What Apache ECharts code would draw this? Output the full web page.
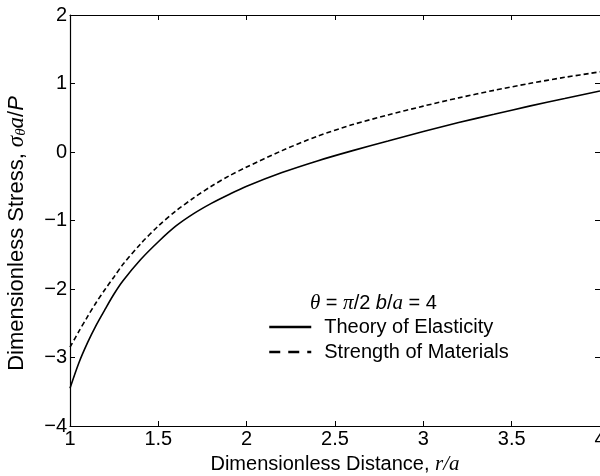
<!DOCTYPE html>
<html>
<head>
<meta charset="utf-8">
<script src="https://cdn.jsdelivr.net/npm/echarts@6/dist/echarts.min.js"></script>
<style>html,body{margin:0;padding:0;background:#fff}#c{width:600px;height:476px}</style>
</head>
<body>
<div id="c"></div>
<script>
// r/a values
const rValues = [1.0,1.05,1.1,1.15,1.2,1.25,1.3,1.4,1.5,1.6,1.7,1.8,1.9,2.0,2.2,2.4,2.6,2.8,3.0,3.2,3.4,3.6,3.8,4.0];
// Theory of Elasticity
const elasticity = [-3.45,-3.08,-2.78,-2.52,-2.29,-2.07,-1.88,-1.57,-1.31,-1.08,-0.90,-0.75,-0.62,-0.50,-0.30,-0.13,0.02,0.16,0.30,0.43,0.55,0.67,0.78,0.89];
// Strength of Materials
const strength = [-2.85,-2.62,-2.40,-2.19,-2.00,-1.82,-1.64,-1.34,-1.08,-0.86,-0.67,-0.50,-0.35,-0.22,0.02,0.23,0.40,0.54,0.67,0.79,0.90,1.00,1.09,1.17];
const seriesNames = ['Theory of Elasticity','Strength of Materials'];
const xTicks = [1,1.5,2,2.5,3,3.5,4];
const yTicks = [-4,-3,-2,-1,0,1,2];

const FONT = '"Liberation Sans", Arial, sans-serif';
const SERIF = '"Liberation Serif", "Times New Roman", serif';
const fmt = v => String(v).replace('-', '\u2212');

const chart = echarts.init(document.getElementById('c'));
const tickCommon = {show:true, inside:true, length:5, lineStyle:{color:'#000', width:1}};
const lineCommon = {show:true, onZero:false, lineStyle:{color:'#000', width:1.2}};
chart.setOption({
  animation:false,
  backgroundColor:'#fff',
  color:['#000','#000'],
  grid:{left:70, right:0, top:15, bottom:50, containLabel:false, outerBoundsMode:'none'},
  title:{
    left:305, top:288,
    text:'{i|θ} = {i|π}/2 {o|b}/{i|a} = 4',
    textStyle:{
      fontFamily:FONT, fontSize:20, fontWeight:'normal', color:'#000',
      rich:{
        i:{fontFamily:SERIF, fontStyle:'italic', fontSize:21, color:'#000'},
        o:{fontFamily:FONT, fontStyle:'italic', fontSize:20, color:'#000'}
      }
    }
  },
  legend:{
    orient:'vertical', left:263, top:312,
    itemWidth:42, itemHeight:14, itemGap:5,
    itemStyle:{opacity:0},
    textStyle:{fontFamily:FONT, fontSize:20, color:'#000', padding:[0,0,0,8]},
    data:[
      {name:seriesNames[0], lineStyle:{width:2.5, type:'solid'}},
      {name:seriesNames[1], lineStyle:{width:2.5, type:[11,8]}}
    ]
  },
  xAxis:[{
    type:'value', min:1, max:4, interval:0.5, position:'bottom',
    axisLine:lineCommon,
    axisTick:tickCommon,
    splitLine:{show:false},
    axisLabel:{color:'#000', fontFamily:FONT, fontSize:20, margin:3, formatter:fmt, alignMaxLabel:'center'},
    name:'Dimensionless Distance, {i|r/a}', nameLocation:'middle', nameGap:28,
    nameTextStyle:{fontFamily:FONT, fontSize:20, color:'#000',
      rich:{i:{fontFamily:SERIF, fontStyle:'italic', fontSize:21, color:'#000'}}}
  },{
    type:'value', min:1, max:4, interval:0.5, position:'top',
    axisLine:lineCommon,
    axisTick:tickCommon, axisLabel:{show:false}, splitLine:{show:false}
  }],
  yAxis:[{
    type:'value', min:-4, max:2, interval:1, position:'left',
    axisLine:lineCommon,
    axisTick:tickCommon,
    splitLine:{show:false},
    axisLabel:{color:'#000', fontFamily:FONT, fontSize:20, margin:3, formatter:fmt},
    name:'Dimensionless Stress, {i|σ}{s|θ}{i|a}/{o|P}', nameLocation:'middle', nameGap:41,
    nameTextStyle:{fontFamily:FONT, fontSize:22, color:'#000', padding:[0,26,0,0],
      rich:{
        i:{fontFamily:SERIF, fontStyle:'italic', fontSize:23, color:'#000'},
        s:{fontFamily:SERIF, fontStyle:'italic', fontSize:15, color:'#000', padding:[10,0,0,0]},
        o:{fontFamily:FONT, fontStyle:'italic', fontSize:22, color:'#000'}
      }}
  },{
    type:'value', min:-4, max:2, interval:1, position:'right',
    axisLine:{show:false, onZero:false},
    axisTick:tickCommon, axisLabel:{show:false}, splitLine:{show:false}
  }],
  series:[
    {name:seriesNames[0], type:'line', smooth:0.3, symbol:'none',
     itemStyle:{color:'#000'},
     lineStyle:{color:'#000', width:1.6, type:'solid'},
     data:rValues.map((r,i)=>[r, elasticity[i]])},
    {name:seriesNames[1], type:'line', smooth:0.3, symbol:'none',
     itemStyle:{color:'#000'},
     lineStyle:{color:'#000', width:1.6, type:[5,3]},
     data:rValues.map((r,i)=>[r, strength[i]])}
  ]
});
</script>
</body>
</html>
